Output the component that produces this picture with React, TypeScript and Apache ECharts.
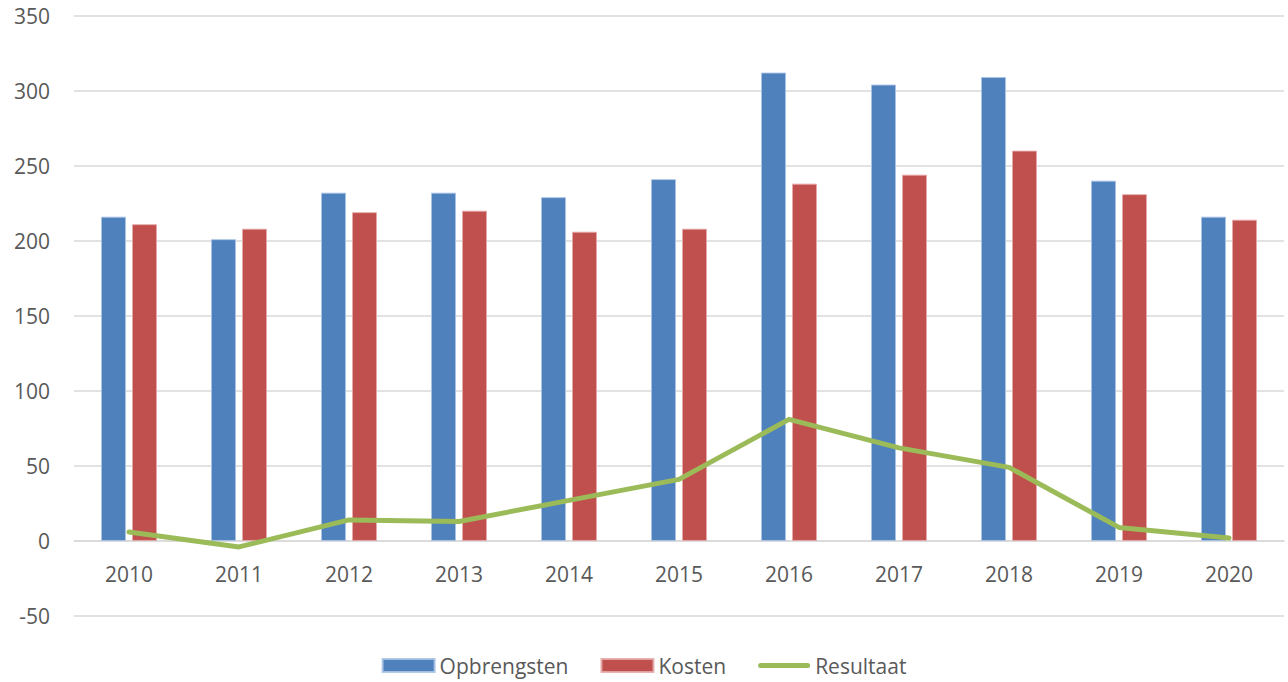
import React, { useEffect, useRef } from "react";
import * as echarts from "echarts";

const categories = ["2010", "2011", "2012", "2013", "2014", "2015", "2016", "2017", "2018", "2019", "2020"];
const opbrengsten = [216, 201, 232, 232, 229, 241, 312, 304, 309, 240, 216];
const kosten = [211, 208, 219, 220, 206, 208, 238, 244, 260, 231, 214];
const resultaat = [6, -4, 14, 13, 27, 41, 81, 62, 49, 9, 2];

const FONT = "'Open Sans', 'Noto Sans', sans-serif";
const TEXT = "#595959";
const LINE_ICON = "path://M2.5,0 L49.5,0 A2.5,2.5 0 0 1 49.5,5 L2.5,5 A2.5,2.5 0 0 1 2.5,0 Z";

export default function App() {
  const ref = useRef<HTMLDivElement>(null);
  useEffect(() => {
    document.body.style.margin = "0";
    if (!ref.current) return;
    const chart = echarts.init(ref.current, undefined, { renderer: "svg" });
    chart.setOption({
      animation: false,
      backgroundColor: "#ffffff",
      textStyle: { fontFamily: FONT },
      grid: { left: 74, right: 4, top: 15.5, bottom: 66, containLabel: false },
      legend: {
        top: 655,
        left: "center",
        padding: 0,
        itemWidth: 52,
        itemHeight: 13,
        itemGap: 32,
        symbolKeepAspect: true,
        textStyle: { fontFamily: FONT, fontSize: 21, color: TEXT },
        data: [
          { name: "Opbrengsten", icon: "rect" },
          { name: "Kosten", icon: "rect" },
          { name: "Resultaat", icon: LINE_ICON },
        ],
      },
      xAxis: {
        type: "category",
        data: categories,
        offset: -75,
        axisLine: { show: true, onZero: false, lineStyle: { color: "#d9d9d9", width: 1.5 } },
        axisTick: { show: false },
        axisLabel: { color: TEXT, fontSize: 21, fontFamily: FONT, margin: 22 },
      },
      yAxis: {
        type: "value",
        min: -50,
        max: 350,
        interval: 50,
        axisLine: { show: false },
        axisTick: { show: false },
        axisLabel: { color: TEXT, fontSize: 21, fontFamily: FONT, margin: 24 },
        splitLine: { lineStyle: { color: "#d9d9d9", width: 1.5 } },
      },
      series: [
        {
          name: "Opbrengsten",
          type: "bar",
          data: opbrengsten,
          barWidth: 25,
          barGap: "24%",
          itemStyle: { color: "#4F81BD", borderColor: "rgba(170,195,230,0.9)", borderWidth: 1 },
        },
        {
          name: "Kosten",
          type: "bar",
          data: kosten,
          barWidth: 25,
          barGap: "24%",
          itemStyle: { color: "#C0504D", borderColor: "rgba(230,170,170,0.9)", borderWidth: 1 },
        },
        {
          name: "Resultaat",
          type: "line",
          data: resultaat,
          symbol: "none",
          z: 5,
          itemStyle: { color: "#9BBB59" },
          lineStyle: { color: "#9BBB59", width: 5, cap: "round", join: "round" },
        },
      ],
    });
    return () => chart.dispose();
  }, []);
  return <div ref={ref} style={{ width: 1288, height: 682 }} />;
}
